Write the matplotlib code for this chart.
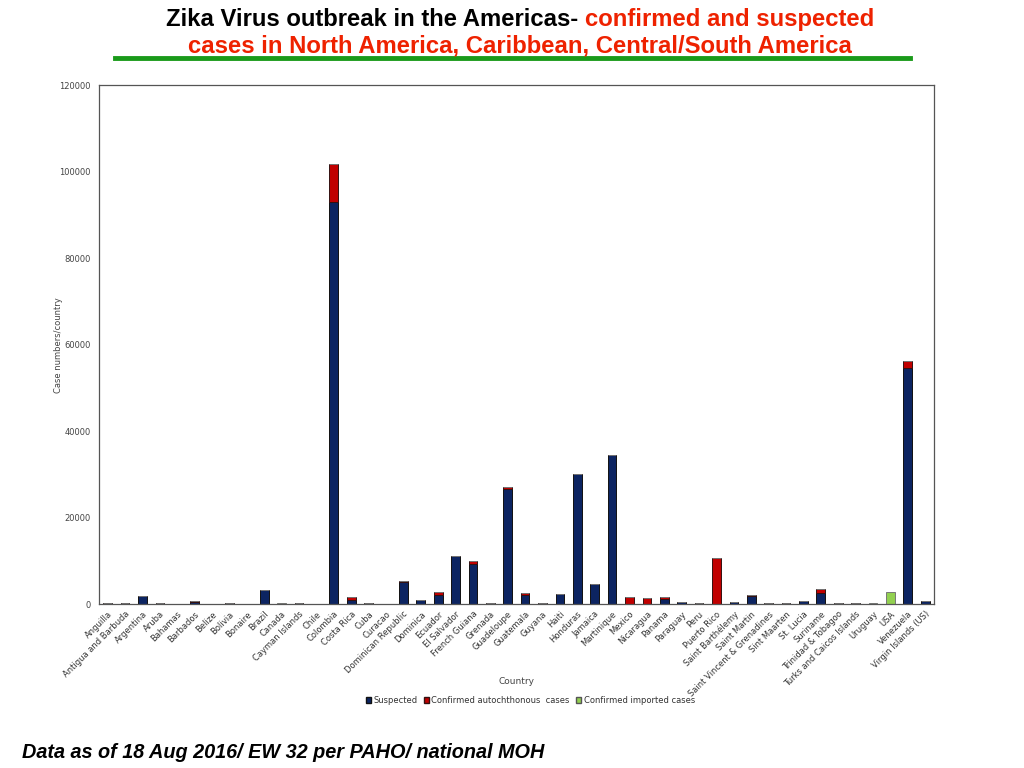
import numpy as np
import matplotlib
matplotlib.use("Agg")
import matplotlib.pyplot as plt
from matplotlib.patches import Patch

# Countries (x axis)
countries = [
    "Anguilla", "Antigua and Barbuda", "Argentina", "Aruba", "Bahamas",
    "Barbados", "Belize", "Bolivia", "Bonaire", "Brazil", "Canada",
    "Cayman Islands", "Chile", "Colombia", "Costa Rica", "Cuba", "Curacao",
    "Dominican Republic", "Dominica", "Ecuador", "El Salvador",
    "French Guiana", "Grenada", "Guadeloupe", "Guatemala", "Guyana", "Haiti",
    "Honduras", "Jamaica", "Martinique", "Mexico", "Nicaragua", "Panama",
    "Paraguay", "Peru", "Puerto Rico", "Saint Barthélemy", "Saint Martin",
    "Saint Vincent & Grenadines", "Sint Maarten", "St. Lucia", "Suriname",
    "Trinidad & Tobagoo", "Turks and Caicos Islands", "Uruguay", "USA",
    "Venezuela", "Virgin Islands (US)",
]

# Case numbers
suspected = [
    180, 200, 1900, 180, 120,
    550, 120, 250, 120, 3200, 0,
    180, 0, 92900, 1000, 180, 120,
    5000, 1000, 2000, 11100,
    9300, 300, 26500, 2000, 150, 2250,
    30100, 4600, 34500, 0, 0, 1150,
    400, 250, 0, 400, 1900,
    250, 150, 750, 2500,
    150, 150, 0, 0,
    54500, 600,
]
confirmed_auto = [
    0, 0, 0, 0, 0,
    80, 0, 0, 0, 100, 0,
    0, 0, 8800, 700, 0, 0,
    300, 0, 800, 0,
    700, 0, 500, 450, 0, 0,
    0, 100, 0, 1620, 1460, 450,
    0, 0, 10600, 0, 80,
    0, 0, 0, 900,
    0, 0, 0, 0,
    1700, 0,
]
confirmed_imported = [
    0, 0, 0, 0, 0,
    0, 0, 0, 0, 0, 150,
    0, 120, 0, 0, 0, 0,
    0, 0, 0, 0,
    0, 0, 0, 0, 0, 0,
    0, 0, 0, 0, 0, 0,
    0, 0, 100, 0, 0,
    0, 0, 0, 0,
    0, 0, 150, 2700,
    0, 0,
]

navy = "#0c2461"
red = "#c00000"
green = "#92d050"

fig = plt.figure(figsize=(10.24, 7.68), dpi=100)
ax = fig.add_axes([0.0967, 0.2135, 0.8153, 0.6755])

x = np.arange(len(countries))
s = np.array(suspected)
a = np.array(confirmed_auto)
im = np.array(confirmed_imported)
w = 0.5
ax.bar(x, s, w, color=navy, edgecolor="#111111", linewidth=0.7)
ax.bar(x, a, w, bottom=s, color=red, edgecolor="#331111", linewidth=0.7)
ax.bar(x, im, w, bottom=s + a, color=green, edgecolor="#777777", linewidth=0.7)

ax.set_xlim(-0.5, len(countries) - 0.5)
ax.set_ylim(0, 120000)
ax.set_yticks(np.arange(0, 120001, 20000))
ax.tick_params(axis="y", labelsize=6, labelcolor="#444444", length=0, pad=6)
ax.set_xticks(x)
ax.set_xticklabels(countries, rotation=45, ha="right", rotation_mode="anchor",
                   fontsize=6, color="#333333")
ax.tick_params(axis="x", length=0, pad=4)
for sp in ax.spines.values():
    sp.set_color("#555555")
    sp.set_linewidth(0.9)

ax.set_xlabel("Country", fontsize=6.5, color="#444444")
ax.set_ylabel("Case numbers/country", fontsize=6, color="#444444")
ax.xaxis.set_label_coords(0.5, -0.14)
ax.yaxis.set_label_coords(-0.043, 0.5)

handles = [
    Patch(facecolor=navy, edgecolor="#111111", label="Suspected"),
    Patch(facecolor=red, edgecolor="#331111", label="Confirmed autochthonous  cases"),
    Patch(facecolor=green, edgecolor="#555555", label="Confirmed imported cases"),
]
fig.legend(handles=handles, loc="center", bbox_to_anchor=(0.518, 0.088), ncol=3,
           frameon=False, fontsize=6, handlelength=0.6, handleheight=0.6,
           handletextpad=0.3, columnspacing=0.8, labelcolor="#333333")

# Title (first line in two colours)
title_font = ["Liberation Sans Narrow", "Liberation Sans", "DejaVu Sans"]
t1 = fig.text(0.5, 0.975, "Zika Virus outbreak in the Americas- ", ha="left", va="center",
              fontsize=17.2, fontweight="bold", family=title_font, color="black")
t2 = fig.text(0.5, 0.975, "confirmed and suspected", ha="left", va="center",
              fontsize=17.2, fontweight="bold", family=title_font, color="#ee2200")
fig.canvas.draw()
w1 = t1.get_window_extent().width / fig.bbox.width
w2 = t2.get_window_extent().width / fig.bbox.width
x0 = 0.508 - (w1 + w2) / 2
t1.set_x(x0)
t2.set_x(x0 + w1)
fig.text(0.508, 0.940, "cases in North America, Caribbean, Central/South America",
         ha="center", va="center", fontsize=17.2, fontweight="bold",
         family=title_font, color="#ee2200")
fig.add_artist(plt.Line2D([0.112, 0.889], [0.924, 0.924], color="#1a9a1a",
                          linewidth=3.5, transform=fig.transFigure))

fig.text(0.021, 0.02, "Data as of 18 Aug 2016/ EW 32 per PAHO/ national MOH",
         ha="left", va="center", fontsize=14.3, fontweight="bold", style="italic",
         family=["Liberation Sans", "DejaVu Sans"])

fig.savefig("out.png", dpi=100)
